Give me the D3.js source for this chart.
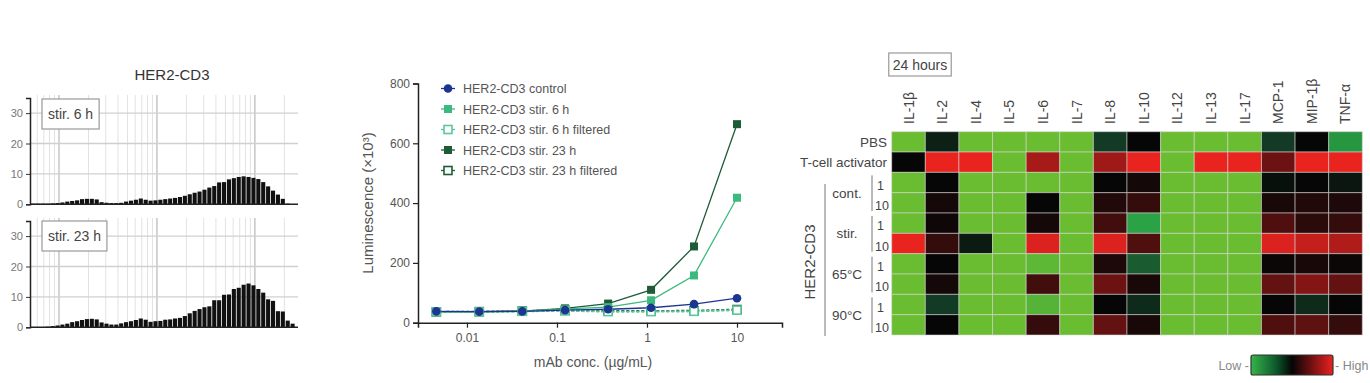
<!DOCTYPE html>
<html><head><meta charset="utf-8">
<script src="https://cdn.jsdelivr.net/npm/d3@7"></script>
<style>
body{margin:0;background:#fff;font-family:"Liberation Sans",Arial,sans-serif;}
svg{display:block}
</style>
</head><body>
<svg id="c" width="1370" height="383"></svg>
<script>
// ================= DATA =================
// Histograms (log-spaced bins, counts)
const histTitle = "HER2-CD3";
const histBinStartLog = 1.71, histBinWidthLog = 0.05;
const hist6h = [0.2,0.2,0.2,0.2,0.3,0.4,0.6,0.9,1.1,1.3,1.7,1.8,1.8,1.6,0.7,0.5,0.4,0.4,0.5,0.9,
  1.2,1.5,1.9,1.5,1.2,1.3,1.5,1.7,1.9,2.1,2.4,2.8,3.3,3.8,4.2,4.8,5.5,6.0,7.2,7.3,
  8.2,8.6,9.0,9.2,9.0,8.7,8.3,7.3,5.9,4.5,3.2,1.8,0.2,0];
const hist23h = [0.1,0.1,0.1,0.2,0.4,0.6,0.9,1.2,1.7,2.0,2.4,2.7,2.8,2.6,1.6,1.2,0.9,0.9,1.3,1.7,
  2.0,2.4,2.9,2.5,1.8,2.0,2.1,2.5,2.6,2.9,3.1,3.7,4.6,5.4,6.0,6.6,6.9,8.9,8.9,10.7,
  10.8,12.6,13.0,14.0,14.4,13.8,12.6,11.4,9.2,8.7,5.3,5.2,2.2,1.2];
const histPanelLabels = ["stir. 6 h", "stir. 23 h"];
const histYTicks = [0, 10, 20, 30];

// Dose response
const concentrations = [0.00457, 0.0137, 0.0412, 0.123, 0.370, 1.11, 3.33, 10];
const seriesNames = ["HER2-CD3 control", "HER2-CD3 stir. 6 h", "HER2-CD3 stir. 6 h filtered",
  "HER2-CD3 stir. 23 h", "HER2-CD3 stir. 23 h filtered"];
const controlVals   = [38, 37, 38, 42, 45, 50, 62, 82];
const stir6hVals    = [35, 36, 38, 46, 52, 75, 158, 418];
const stir6hFilt    = [36, 36, 38, 40, 37, 37, 38, 42];
const stir23hVals   = [36, 37, 39, 48, 64, 110, 255, 664];
const stir23hFilt   = [36, 37, 39, 41, 39, 39, 40, 44];
const doseXTicks = [0.01, 0.1, 1, 10];
const doseYTicks = [0, 200, 400, 600, 800];

// Heatmap
const cytokines = ["IL-1β","IL-2","IL-4","IL-5","IL-6","IL-7","IL-8","IL-10","IL-12","IL-13","IL-17","MCP-1","MIP-1β","TNF-α"];
const heatRows = ["PBS","T-cell activator","cont. 1","cont. 10","stir. 1","stir. 10","65°C 1","65°C 10","90°C 1","90°C 10"];
const heatGroups = ["cont.","stir.","65°C","90°C"];
const heatValues = [
  [0,   0.45,0,   0,0,   0,0.40,0.50,0,0,0,0.40,0.50,0.18],
  [0.5, 1,   1,   0,0.85,0,0.83,1,   0,1,1,0.72,1,   1],
  [0,   0.5, 0,   0,0,   0,0.50,0.53,0,0,0,0.48,0.50,0.47],
  [0,   0.53,0,   0,0.50,0,0.56,0.60,0,0,0,0.54,0.56,0.55],
  [0,   0.52,0,   0,0.53,0,0.63,0.15,0,0,0,0.66,0.58,0.60],
  [1,   0.60,0.46,0,0.97,0,0.97,0.66,0,0,0,0.97,0.92,0.87],
  [0,   0.50,0,   0,0.03,0,0.55,0.32,0,0,0,0.51,0.54,0.51],
  [0,   0.53,0,   0,0.63,0,0.72,0.54,0,0,0,0.70,0.77,0.70],
  [0,   0.40,0,   0,0.05,0,0.50,0.43,0,0,0,0.50,0.43,0.50],
  [0,   0.50,0,   0,0.60,0,0.70,0.54,0,0,0,0.66,0.69,0.60]
];

// ================= DRAW =================
const svg = d3.select("#c");
const txt = "#555";

// ---------- Histograms ----------
(function(){
  const xs = d3.scaleLog().domain([Math.pow(10,1.704), Math.pow(10,4.44)]).range([30, 298]);
  svg.append("text").attr("x",172).attr("y",80).attr("text-anchor","middle")
    .attr("font-size",15).attr("fill","#333").text(histTitle);
  const panels = [{vals:hist6h, base:204.3, label:histPanelLabels[0], by:99},
                  {vals:hist23h, base:327.3, label:histPanelLabels[1], by:221}];
  panels.forEach(p=>{
    const ys = d3.scaleLinear().domain([0,35]).range([p.base, p.base-35*3.04]);
    const g = svg.append("g");
    const gl = [];
    for (let e=1;e<=4;e++) for (let k=1;k<=9;k++){ const v=k*Math.pow(10,e); if(v>=xs.domain()[0]&&v<=xs.domain()[1]) gl.push({v,major:k===1}); }
    g.selectAll(".vg").data(gl).join("line")
      .attr("x1",d=>xs(d.v)).attr("x2",d=>xs(d.v)).attr("y1",ys(35)-3).attr("y2",p.base)
      .attr("stroke",d=>d.major?"#b8b8b8":"#e2e2e2").attr("stroke-width",d=>d.major?1.2:1);
    g.selectAll(".hg").data(histYTicks.slice(1)).join("line")
      .attr("x1",30).attr("x2",298).attr("y1",d=>ys(d)).attr("y2",d=>ys(d))
      .attr("stroke","#d0d0d0").attr("stroke-width",1.3);
    g.selectAll(".bar").data(p.vals).join("rect")
      .attr("x",(d,i)=>xs(Math.pow(10,histBinStartLog+i*histBinWidthLog))+0.4)
      .attr("width",(d,i)=>xs(Math.pow(10,histBinStartLog+(i+1)*histBinWidthLog))-xs(Math.pow(10,histBinStartLog+i*histBinWidthLog))-0.8)
      .attr("y",d=>ys(d)).attr("height",d=>p.base-ys(d)).attr("fill","#111");
    g.append("line").attr("x1",30).attr("x2",298).attr("y1",p.base).attr("y2",p.base).attr("stroke","#222").attr("stroke-width",1.5);
    const ax = g.append("g").attr("transform","translate(30,0)")
      .call(d3.axisLeft(ys).tickValues(histYTicks).tickSize(4).tickPadding(3));
    ax.select(".domain").attr("stroke","#222").attr("stroke-width",1.5);
    ax.selectAll(".tick line").attr("stroke","#333");
    ax.selectAll("text").attr("font-size",11).attr("fill","#777").attr("font-family","Liberation Sans, Arial");
    const box = g.append("rect").attr("x",42).attr("y",p.by).attr("height",30)
      .attr("fill","#fff").attr("stroke","#999").attr("stroke-width",1.2);
    const t = g.append("text").attr("x",48).attr("y",p.by+20).attr("font-size",14).attr("fill","#444").text(p.label);
    box.attr("width", t.node().getComputedTextLength()+12);
  });
})();

// ---------- Dose response ----------
(function(){
  const x = d3.scaleLog().domain([Math.pow(10,-2.544), Math.pow(10,1.5)]).range([418, 782]);
  const y = d3.scaleLinear().domain([0,800]).range([322.7, 83.5]);
  const g = svg.append("g");
  const ax = g.append("g").attr("transform","translate(0,322.7)")
    .call(d3.axisBottom(x).tickValues(doseXTicks).tickFormat(d=>String(d)).tickSize(5).tickPadding(6));
  const ay = g.append("g").attr("transform","translate(418,0)")
    .call(d3.axisLeft(y).tickValues(doseYTicks).tickSize(5).tickPadding(3));
  [ax,ay].forEach(a=>{
    a.select(".domain").attr("stroke","#222").attr("stroke-width",1.5);
    a.selectAll(".tick line").attr("stroke","#222").attr("stroke-width",1.2);
    a.selectAll("text").attr("font-size",12).attr("fill",txt).attr("font-family","Liberation Sans, Arial");
  });
  g.append("text").attr("x",593).attr("y",367).attr("text-anchor","middle").attr("font-size",14).attr("fill",txt).text("mAb conc. (µg/mL)");
  g.append("text").attr("transform","translate(373,203) rotate(-90)").attr("text-anchor","middle").attr("font-size",15).attr("fill",txt).text("Luminescence (×10³)");

  const series = [
    {name:seriesNames[3], vals:stir23hVals, color:"#1d5c36", shape:"square", fill:true, dash:null},
    {name:seriesNames[1], vals:stir6hVals,  color:"#3cb97f", shape:"square", fill:true, dash:null},
    {name:seriesNames[4], vals:stir23hFilt, color:"#1d5c36", shape:"square", fill:false, dash:"3,2"},
    {name:seriesNames[2], vals:stir6hFilt,  color:"#5cc79a", shape:"square", fill:false, dash:"3,2"},
    {name:seriesNames[0], vals:controlVals, color:"#1c3591", shape:"circle", fill:true, dash:null}
  ];
  const line = d3.line().x((d,i)=>x(concentrations[i])).y(d=>y(d));
  function marker(sel, s, cx, cy){
    if (s.shape==="circle"){
      sel.append("circle").attr("cx",cx).attr("cy",cy).attr("r",4.3).attr("fill",s.color);
    } else {
      sel.append("rect").attr("x",cx-4).attr("y",cy-4).attr("width",8).attr("height",8)
        .attr("fill",s.fill?s.color:"#fff").attr("stroke",s.color).attr("stroke-width",s.fill?0:1.6);
    }
  }
  series.forEach(s=>{
    g.append("path").attr("d",line(s.vals)).attr("fill","none").attr("stroke",s.color)
      .attr("stroke-width",s.dash?2:1.3).attr("stroke-dasharray",s.dash);
  });
  series.forEach(s=>{
    const mg = g.append("g");
    s.vals.forEach((v,i)=>marker(mg, s, x(concentrations[i]), y(v)));
  });
  const legOrder = [4,1,3,0,2];
  const lg = g.append("g");
  legOrder.forEach((si,k)=>{
    const s = series[si];
    const cy = 88.5 + k*20.5;
    lg.append("line").attr("x1",441).attr("x2",455).attr("y1",cy).attr("y2",cy)
      .attr("stroke",s.color).attr("stroke-width",1.3);
    marker(lg, s, 448, cy);
    lg.append("text").attr("x",463).attr("y",cy+4.5).attr("font-size",12.5).attr("fill","#555").text(s.name);
  });
})();

// ---------- Heatmap ----------
(function(){
  const x = d3.scaleBand().domain(cytokines).range([891.7, 1362.3]);
  const y = d3.scaleBand().domain(heatRows).range([131.7, 335]);
  const color = d3.scaleLinear().domain([0,0.15,0.4,0.5,0.75,1])
    .range(["#6abd31","#2aa245","#123a24","#060606","#7a1414","#e9241f"]);
  const g = svg.append("g");
  const cells = [];
  heatValues.forEach((row,r)=>row.forEach((v,c)=>cells.push({r:heatRows[r], c:cytokines[c], v})));
  g.selectAll(".cell").data(cells).join("rect")
    .attr("x",d=>x(d.c)).attr("y",d=>y(d.r)).attr("width",x.bandwidth()).attr("height",y.bandwidth())
    .attr("fill",d=>color(d.v)).attr("stroke","rgba(215,215,215,0.55)").attr("stroke-width",1);
  cytokines.forEach(c=>{
    g.append("text").attr("transform",`translate(${x(c)+x.bandwidth()/2+5},124) rotate(-90)`)
      .attr("font-size",14).attr("fill","#444").text(c);
  });
  const hb = g.append("rect").attr("y",53).attr("height",23)
    .attr("fill","#fff").attr("stroke","#999").attr("stroke-width",1.2);
  const tb = g.append("text").attr("x",920).attr("y",70).attr("text-anchor","middle").attr("font-size",14).attr("fill","#444").text("24 hours");
  const tw = tb.node().getComputedTextLength();
  hb.attr("x",920-tw/2-4).attr("width",tw+8);
  ["PBS","T-cell activator"].forEach(r=>{
    g.append("text").attr("x",887).attr("y",y(r)+y.bandwidth()/2+5).attr("text-anchor","end")
      .attr("font-size",13.5).attr("fill","#444").text(r);
  });
  heatGroups.forEach((grp,k)=>{
    const r1 = heatRows[2+2*k], r2 = heatRows[3+2*k];
    const top = y(r1), bot = y(r2)+y.bandwidth();
    g.append("text").attr("x",847).attr("y",(top+bot)/2+5).attr("text-anchor","middle")
      .attr("font-size",13.5).attr("fill","#444").text(grp);
    g.append("line").attr("x1",872).attr("x2",872).attr("y1",top+3).attr("y2",bot-2)
      .attr("stroke","#777").attr("stroke-width",1);
    g.append("text").attr("x",884).attr("y",top+y.bandwidth()/2+7).attr("text-anchor","end")
      .attr("font-size",12.5).attr("fill","#444").text("1");
    g.append("text").attr("x",889).attr("y",bot-3).attr("text-anchor","end")
      .attr("font-size",12.5).attr("fill","#444").text("10");
  });
  g.append("line").attr("x1",825).attr("x2",825).attr("y1",184).attr("y2",336).attr("stroke","#777").attr("stroke-width",1);
  g.append("text").attr("transform","translate(815,262) rotate(-90)").attr("text-anchor","middle")
    .attr("font-size",15).attr("fill","#444").text("HER2-CD3");
  const defs = svg.append("defs");
  const gr = defs.append("linearGradient").attr("id","lg");
  [["0%","#37b54a"],["30%","#0e5a2c"],["50%","#050505"],["72%","#6a0f10"],["100%","#ea2222"]]
    .forEach(s=>gr.append("stop").attr("offset",s[0]).attr("stop-color",s[1]));
  g.append("rect").attr("x",1251).attr("y",355).attr("width",82).attr("height",20).attr("rx",2)
    .attr("fill","url(#lg)").attr("stroke","#333").attr("stroke-width",1.2);
  g.append("text").attr("x",1249).attr("y",370).attr("text-anchor","end").attr("font-size",12.5).attr("fill","#888").text("Low -");
  g.append("text").attr("x",1335).attr("y",370).attr("font-size",12.5).attr("fill","#888").text("- High");
})();
</script>
</body></html>
